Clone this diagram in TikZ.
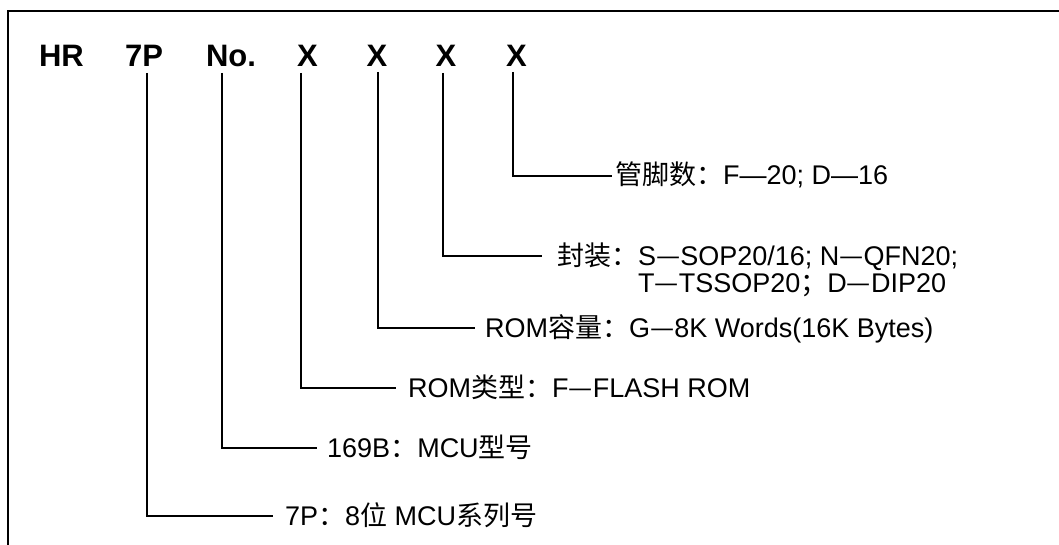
\documentclass[tikz,border=0pt]{standalone}
\usepackage{fontspec}
\setmainfont{Liberation Sans}
\newfontfamily\cjk{Noto Sans CJK SC}
\usetikzlibrary{calc}
\begin{document}
\begin{tikzpicture}[x=1pt,y=-1pt,
  hdr/.style={font=\fontsize{31}{33}\selectfont\bfseries, inner sep=0pt, anchor=base},
  lbl/.style={font=\fontsize{27}{27}\selectfont, inner sep=0pt, anchor=base west, align=left},
  conn/.style={line width=2pt},
  framel/.style={line width=2.5pt}]
\useasboundingbox (0,0) rectangle (1059,545);
\draw[framel] (1062,11) -- (8,11) -- (8,548);
% header
\node[hdr] (hr) at (61.5,67) {HR};
\node[hdr] (p7) at (144,67) {7P};
\node[hdr] (no) at (231,67) {No.};
\node[hdr] (x1) at (307.5,67) {X};
\node[hdr] (x2) at (377,67) {X};
\node[hdr] (x3) at (446,67) {X};
\node[hdr] (x4) at (516.5,67) {X};
% labels
\node[lbl] (l4) at (615,185) {{\cjk 管脚数：}F—20; D—16};
\node[lbl] (l3) at (557,292) {{\cjk 封装：}S{\cjk —}SOP20/16; N{\cjk —}QFN20;\\\hphantom{\cjk 封装：}T{\cjk —}TSSOP20{\cjk ；}D{\cjk —}DIP20};
\node[lbl] (l2) at (485,337) {ROM{\cjk 容量：}G{\cjk —}8K Words(16K Bytes)};
\node[lbl] (l1) at (408,397) {ROM{\cjk 类型：}F{\cjk —}FLASH ROM};
\node[lbl] (lno) at (327,457) {169B{\cjk ：}MCU{\cjk 型号}};
\node[lbl] (l7) at (285,525) {7P{\cjk ：}8{\cjk 位} MCU{\cjk 系列号}};
% connector starts
\coordinate (s4) at (513,72);
\coordinate (s3) at (443,73);
\coordinate (s2) at (378,72);
\coordinate (s1) at (301,73);
\coordinate (sno) at (222,73);
\coordinate (s7) at (147,73);
% connectors
\draw[conn] (s4) |- ($(l4.base west)+(-3,-9)$);
\draw[conn] (s3) |- ($(l3.base west)+(-15,-36.5)$);
\draw[conn] (s2) |- ($(l2.base west)+(-10,-9.5)$);
\draw[conn] (s1) |- ($(l1.base west)+(-12,-9.5)$);
\draw[conn] (sno) |- ($(lno.base west)+(-10,-9.5)$);
\draw[conn] (s7) |- ($(l7.base west)+(-12,-9.5)$);
\end{tikzpicture}
\end{document}
